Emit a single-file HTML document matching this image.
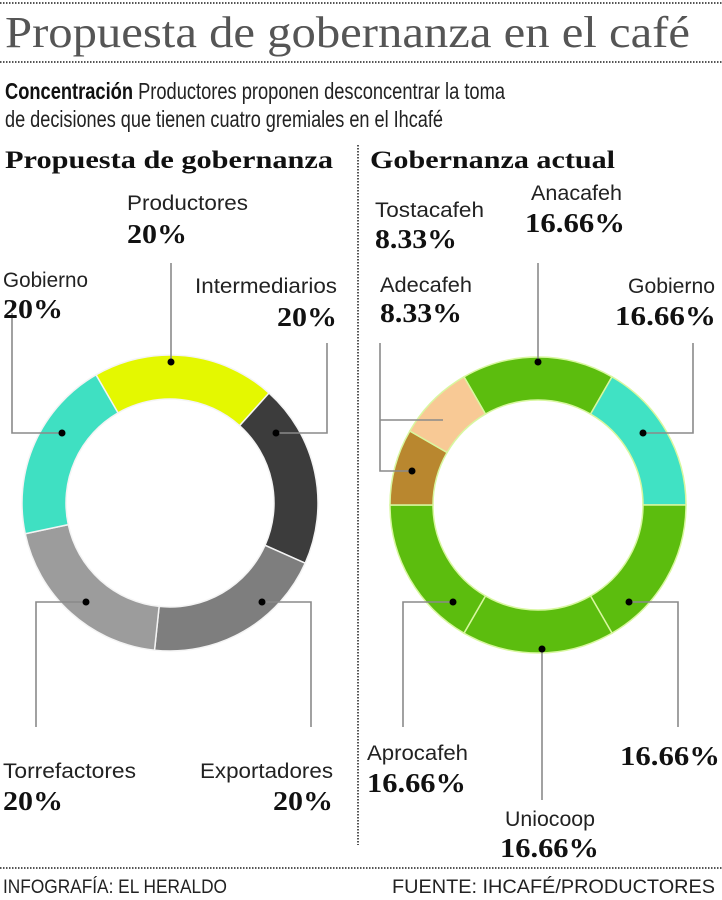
<!DOCTYPE html>
<html><head><meta charset="utf-8"><style>
html,body{margin:0;padding:0;background:#fff;}
svg{display:block;}
.t{font-family:"Liberation Sans Narrow","Liberation Sans",sans-serif;fill:#222;}
.p{font-family:"Liberation Serif",serif;font-weight:bold;fill:#111;}
.l{stroke:#8a8a8a;stroke-width:1.6;fill:none;}
</style></head><body>
<svg id="s" width="722" height="900" viewBox="0 0 722 900" xmlns="http://www.w3.org/2000/svg">
<line x1="0" y1="3" x2="722" y2="3" stroke="#555" stroke-width="2" stroke-dasharray="1.5 1.5"/>
<text x="5" y="47" class="t" font-size="44" textLength="685" lengthAdjust="spacingAndGlyphs" style="font-family:'Liberation Serif',serif;font-weight:normal;fill:#555">Propuesta de gobernanza en el café</text>
<line x1="0" y1="62" x2="722" y2="62" stroke="#555" stroke-width="2" stroke-dasharray="1.5 1.5"/>
<text x="5" y="99" class="t" font-size="23" textLength="500" lengthAdjust="spacingAndGlyphs"><tspan font-weight="bold" fill="#111">Concentración</tspan> Productores proponen desconcentrar la toma</text>
<text x="5" y="127" class="t" font-size="23" textLength="438" lengthAdjust="spacingAndGlyphs">de decisiones que tienen cuatro gremiales en el Ihcafé</text>
<text x="5" y="168" class="p" font-size="25" textLength="328" lengthAdjust="spacingAndGlyphs">Propuesta de gobernanza</text>
<text x="370" y="168" class="p" font-size="25" textLength="245" lengthAdjust="spacingAndGlyphs">Gobernanza actual</text>
<line x1="358" y1="145" x2="358" y2="845" stroke="#555" stroke-width="2" stroke-dasharray="1.5 1.5"/>
<line x1="0" y1="868" x2="722" y2="868" stroke="#555" stroke-width="2" stroke-dasharray="1.5 1.5"/>
<text x="3" y="893" class="t" font-size="19" textLength="224" lengthAdjust="spacingAndGlyphs" fill="#333">INFOGRAFÍA: EL HERALDO</text>
<text x="392" y="893" class="t" font-size="19" textLength="323" lengthAdjust="spacingAndGlyphs" fill="#333">FUENTE: IHCAFÉ/PRODUCTORES</text>
<g id="donuts"></g>
<!-- leader lines left -->
<polyline class="l" points="171,263 171,362"/>
<polyline class="l" points="12,313 12,433 62,433"/>
<polyline class="l" points="327,343 327,433 276,433"/>
<polyline class="l" points="86,602 36,602 36,727"/>
<polyline class="l" points="262,602 311,602 311,727"/>
<!-- right -->
<polyline class="l" points="538,263 538,362"/>
<polyline class="l" points="693,343 693,433 643,433"/>
<polyline class="l" points="380,420 443,420"/>
<polyline class="l" points="380,343 380,471 412,471"/>
<polyline class="l" points="453,602 403,602 403,727"/>
<polyline class="l" points="542,649 542,800"/>
<polyline class="l" points="629,602 678,602 678,727"/>
<g fill="#000">
<circle cx="171" cy="362" r="3.5"/><circle cx="62" cy="433" r="3.5"/><circle cx="276" cy="433" r="3.5"/><circle cx="86" cy="602" r="3.5"/><circle cx="262" cy="602" r="3.5"/>
<circle cx="538" cy="362" r="3.5"/><circle cx="643" cy="433" r="3.5"/><circle cx="412" cy="471" r="3.5"/><circle cx="453" cy="602" r="3.5"/><circle cx="542" cy="649" r="3.5"/><circle cx="629" cy="602" r="3.5"/>
</g>
<!-- labels -->
<g class="t" font-size="21">
<text x="127" y="210" textLength="121" lengthAdjust="spacingAndGlyphs">Productores</text>
<text x="3" y="287" textLength="85" lengthAdjust="spacingAndGlyphs">Gobierno</text>
<text x="195" y="293" textLength="142" lengthAdjust="spacingAndGlyphs">Intermediarios</text>
<text x="3" y="778" textLength="133" lengthAdjust="spacingAndGlyphs">Torrefactores</text>
<text x="200" y="778" textLength="133" lengthAdjust="spacingAndGlyphs">Exportadores</text>
<text x="375" y="217" textLength="109" lengthAdjust="spacingAndGlyphs">Tostacafeh</text>
<text x="531" y="200" textLength="91" lengthAdjust="spacingAndGlyphs">Anacafeh</text>
<text x="380" y="292" textLength="92" lengthAdjust="spacingAndGlyphs">Adecafeh</text>
<text x="628" y="293" textLength="87" lengthAdjust="spacingAndGlyphs">Gobierno</text>
<text x="367" y="760" textLength="101" lengthAdjust="spacingAndGlyphs">Aprocafeh</text>
<text x="505" y="826" textLength="90" lengthAdjust="spacingAndGlyphs">Uniocoop</text>
</g>
<g class="p" font-size="27">
<text x="127" y="243" textLength="60" lengthAdjust="spacingAndGlyphs">20%</text>
<text x="3" y="318" textLength="60" lengthAdjust="spacingAndGlyphs">20%</text>
<text x="277" y="326" textLength="60" lengthAdjust="spacingAndGlyphs">20%</text>
<text x="3" y="810" textLength="60" lengthAdjust="spacingAndGlyphs">20%</text>
<text x="273" y="810" textLength="60" lengthAdjust="spacingAndGlyphs">20%</text>
<text x="375" y="248" textLength="82" lengthAdjust="spacingAndGlyphs">8.33%</text>
<text x="525" y="232" textLength="100" lengthAdjust="spacingAndGlyphs">16.66%</text>
<text x="380" y="322" textLength="82" lengthAdjust="spacingAndGlyphs">8.33%</text>
<text x="615" y="325" textLength="101" lengthAdjust="spacingAndGlyphs">16.66%</text>
<text x="367" y="792" textLength="99" lengthAdjust="spacingAndGlyphs">16.66%</text>
<text x="620" y="765" textLength="100" lengthAdjust="spacingAndGlyphs">16.66%</text>
<text x="500" y="857" textLength="99" lengthAdjust="spacingAndGlyphs">16.66%</text>
</g>
</svg>
<script>
function arc(cx,cy,R,r,a0,a1){
 function pt(rad,a){var t=(a-90)*Math.PI/180;return [cx+rad*Math.cos(t),cy+rad*Math.sin(t)];}
 var l=(a1-a0)>180?1:0,p1=pt(R,a0),p2=pt(R,a1),p3=pt(r,a1),p4=pt(r,a0);
 return "M"+p1+" A"+R+","+R+" 0 "+l+" 1 "+p2+" L"+p3+" A"+r+","+r+" 0 "+l+" 0 "+p4+" Z";
}
var g=document.getElementById("donuts"),h="";
var L=[[-30,42,"#e4f800"],[42,114,"#3c3c3c"],[114,186,"#7e7e7e"],[186,258,"#9c9c9c"],[258,330,"#3fe0c2"]];
L.forEach(function(s){h+='<path d="'+arc(170,503,148,104,s[0],s[1])+'" fill="'+s[2]+'" stroke="#f4f4f4" stroke-width="1.5"/>';});
var R=[[-30,30,"#5cbd0e"],[30,90,"#40e2c4"],[90,150,"#5cbd0e"],[150,210,"#5cbd0e"],[210,270,"#5cbd0e"],[270,300,"#b9872f"],[300,330,"#f8c995"]];
R.forEach(function(s){h+='<path d="'+arc(538,505,148,105,s[0],s[1])+'" fill="'+s[2]+'" stroke="#d8f7a0" stroke-width="1.5"/>';});
g.innerHTML=h;
</script>
</body></html>
